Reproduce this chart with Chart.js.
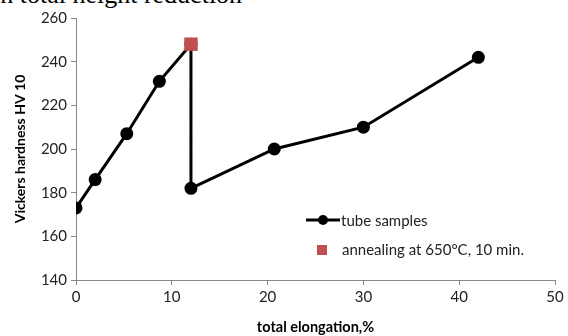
<!DOCTYPE html>
<html>
<head>
<meta charset="utf-8">
<script src="https://cdn.jsdelivr.net/npm/chart.js@4/dist/chart.umd.min.js"></script>
<style>
  html, body { margin: 0; padding: 0; background: #fff; }
  #wrap { position: relative; width: 568px; height: 336px; overflow: hidden; }
  #caption { position: absolute; left: -7px; top: -20px; font: 26px "Liberation Serif", serif; color: #000; white-space: nowrap; }
  canvas { position: absolute; left: 0; top: 0; }
</style>
</head>
<body>
<div id="wrap">
  <div id="caption">in total height reduction</div>
  <canvas id="c" width="568" height="336"></canvas>
</div>
<script>
// tube samples
var elongation = [0, 2, 5.3, 8.7, 12, 12, 20.7, 30, 42];
var hardness = [173, 186, 207, 231, 248, 182, 200, 210, 242];
// annealed point
var annealElongation = [12];
var annealHardness = [248];

var seriesNames = ['tube samples', 'annealing at 650°C, 10 min.'];
var xTitle = 'total elongation,%';
var yTitle = 'Vickers hardness HV 10';

function pts(xs, ys) {
  return xs.map(function(x, i) { return {x: x, y: ys[i]}; });
}

var fontFam = 'Lato, "Open Sans", sans-serif';

// legend drawn inside the plot, like the original
var insideLegend = {
  id: 'insideLegend',
  afterDraw: function(chart) {
    var ctx = chart.ctx;
    var ds = chart.data.datasets;
    ctx.save();
    ctx.font = '15px ' + fontFam;
    ctx.textBaseline = 'middle';
    // tube samples
    ctx.strokeStyle = '#000';
    ctx.lineWidth = 3;
    ctx.beginPath();
    ctx.moveTo(306, 220);
    ctx.lineTo(340, 220);
    ctx.stroke();
    ctx.fillStyle = '#000';
    ctx.beginPath();
    ctx.arc(323, 220, 5, 0, Math.PI * 2);
    ctx.fill();
    ctx.fillStyle = '#222';
    ctx.fillText(ds[0].label, 341, 221);
    // annealing
    ctx.fillStyle = '#c0504d';
    ctx.fillRect(317, 245, 10, 10);
    ctx.fillStyle = '#222';
    ctx.fillText(ds[1].label, 342, 250);
    ctx.restore();
  }
};

new Chart(document.getElementById('c'), {
  type: 'scatter',
  plugins: [insideLegend],
  data: {
    datasets: [
      {
        label: seriesNames[0],
        data: pts(elongation, hardness),
        showLine: true,
        borderColor: '#000',
        backgroundColor: '#000',
        borderWidth: 3,
        pointRadius: 6.5,
        pointBorderWidth: 0,
        order: 1,
      },
      {
        label: seriesNames[1],
        data: pts(annealElongation, annealHardness),
        pointStyle: 'rect',
        pointRadius: 9.5,
        pointBorderWidth: 0,
        backgroundColor: '#c0504d',
        borderColor: '#c0504d',
        order: 0,
      },
    ]
  },
  options: {
    responsive: false,
    animation: false,
    layout: {
      padding: {left: 12, right: 13, top: 18, bottom: 0}
    },
    plugins: {
      legend: { display: false },
      tooltip: { enabled: false },
    },
    scales: {
      x: {
        type: 'linear',
        min: 0,
        max: 50,
        afterFit: function(s) { s.height = 56; },
        ticks: {
          stepSize: 10,
          color: '#222',
          font: {family: fontFam, size: 15},
          padding: 3,
        },
        grid: {
          drawOnChartArea: false,
          color: '#888',
          tickLength: 5,
        },
        border: { color: '#888' },
        title: {
          display: true,
          text: xTitle,
          color: '#000',
          font: {family: fontFam, size: 14.5, weight: 'bold'},
          padding: {top: 6, bottom: 0},
        },
      },
      y: {
        min: 140,
        max: 260,
        afterFit: function(s) { s.width = 64; },
        ticks: {
          stepSize: 20,
          color: '#222',
          font: {family: fontFam, size: 15},
          padding: 4,
        },
        grid: {
          drawOnChartArea: false,
          color: '#888',
          tickLength: 5,
        },
        border: { color: '#888' },
        title: {
          display: true,
          text: yTitle,
          color: '#000',
          font: {family: fontFam, size: 14, weight: 'bold'},
          padding: {top: 0, bottom: 4},
        },
      },
    },
  },
});
</script>
</body>
</html>
